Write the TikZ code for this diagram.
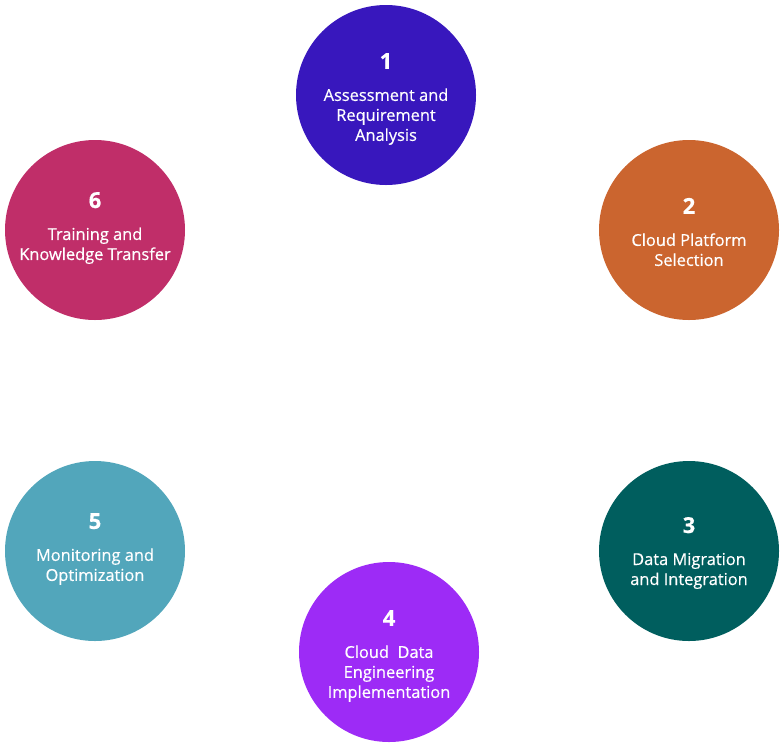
\documentclass[tikz,border=0pt]{standalone}
\usepackage{fontspec}
\setmainfont{Open Sans}[FakeBold=0.5]
\definecolor{stepone}{HTML}{3817BD}
\definecolor{steptwo}{HTML}{CB652F}
\definecolor{stepthree}{HTML}{005E5E}
\definecolor{stepfour}{HTML}{9D2BF6}
\definecolor{stepfive}{HTML}{52A6BB}
\definecolor{stepsix}{HTML}{C02E69}
\tikzset{phase/.style={circle, fill=#1, minimum size=135pt, inner sep=0pt},
  phasetext/.style={text=white, align=center, font=\fontsize{12.3}{15}\selectfont}}
\newcommand{\num}[1]{{\fontsize{16.5}{15}\selectfont\bfseries #1}\\[9pt]}
\begin{document}
\begin{tikzpicture}[x=0.75pt,y=-0.75pt]
\useasboundingbox (0,0) rectangle (784,747);

\node[phase=stepone] (assess) at (386,95) {};
\node[phase=steptwo] (platform) at (689,230) {};
\node[phase=stepthree] (migrate) at (689,551) {};
\node[phase=stepfour] (engineer) at (389,652) {};
\node[phase=stepfive] (monitor) at (95,551) {};
\node[phase=stepsix] (train) at (95,230) {};

\node[phasetext] (assess text) at ([yshift=-3pt]assess) {\num{1}Assessment and\\Requirement\\Analysis};
\node[phasetext] (platform text) at ([yshift=-1.5pt]platform) {\num{2}Cloud Platform\\Selection};
\node[phasetext] (migrate text) at ([yshift=-1.5pt]migrate) {\num{3}Data Migration\\and Integration};
\node[phasetext] (engineer text) at ([yshift=-3pt]engineer) {\num{4}Cloud\ \ Data\\Engineering\\Implementation};
\node[phasetext] (monitor text) at ([yshift=1.5pt]monitor) {\num{5}Monitoring and\\Optimization};
\node[phasetext] (train text) at ([yshift=1.5pt]train) {\num{6}Training and\\Knowledge Transfer};

\end{tikzpicture}
\end{document}
